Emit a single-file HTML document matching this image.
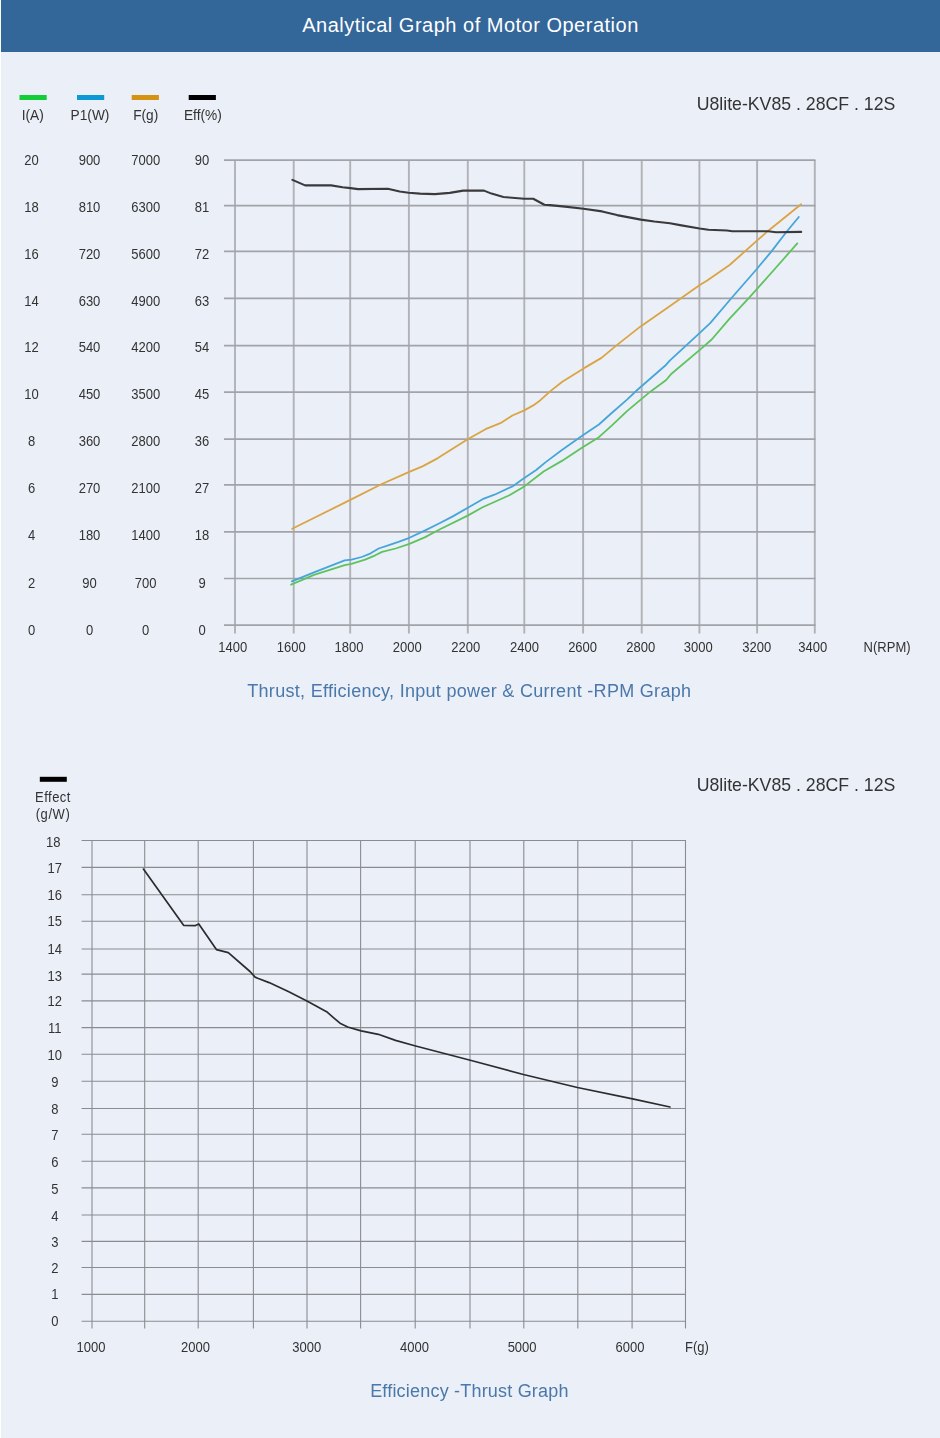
<!DOCTYPE html>
<html><head><meta charset="utf-8"><title>Analytical Graph of Motor Operation</title>
<style>
html,body{margin:0;padding:0;}
body{width:940px;height:1438px;overflow:hidden;background:#ebeff7;position:relative;font-family:"Liberation Sans",sans-serif;}
.lstrip{position:absolute;left:0;top:0;width:1px;height:1438px;background:#fff;}
.hdr{position:absolute;left:1px;top:0;width:939px;height:52px;background:#336699;}
.hdr h1{margin:0;position:absolute;left:0;right:0;top:13px;text-align:center;color:#fff;font-weight:normal;font-size:20px;line-height:24px;letter-spacing:0.5px;}
svg{position:absolute;left:0;top:0;filter:blur(0.35px);}
svg text{font-family:"Liberation Sans",sans-serif;}
</style></head><body>
<div class="lstrip"></div>
<div class="hdr"><h1>Analytical Graph of Motor Operation</h1></div>
<svg width="940" height="1438" viewBox="0 0 940 1438">

<g stroke="#b0b2b7" stroke-width="1.9" fill="none"><line x1="235" y1="160" x2="235" y2="633.5"/><line x1="293.7" y1="160" x2="293.7" y2="633.5"/><line x1="350.2" y1="160" x2="350.2" y2="633.5"/><line x1="408.9" y1="160" x2="408.9" y2="633.5"/><line x1="467.8" y1="160" x2="467.8" y2="633.5"/><line x1="524.3" y1="160" x2="524.3" y2="633.5"/><line x1="583.1" y1="160" x2="583.1" y2="633.5"/><line x1="641.7" y1="160" x2="641.7" y2="633.5"/><line x1="699.4" y1="160" x2="699.4" y2="633.5"/><line x1="757.1" y1="160" x2="757.1" y2="633.5"/><line x1="814.8" y1="160" x2="814.8" y2="633.5"/></g>
<g stroke="#a1a3a8" stroke-width="1.7" fill="none"><line x1="224" y1="160.1" x2="815.5" y2="160.1"/><line x1="224" y1="205.6" x2="815.5" y2="205.6"/><line x1="224" y1="251.4" x2="815.5" y2="251.4"/><line x1="224" y1="298.3" x2="815.5" y2="298.3"/><line x1="224" y1="345.6" x2="815.5" y2="345.6"/><line x1="224" y1="392.1" x2="815.5" y2="392.1"/><line x1="224" y1="439.1" x2="815.5" y2="439.1"/><line x1="224" y1="484.8" x2="815.5" y2="484.8"/><line x1="224" y1="531.8" x2="815.5" y2="531.8"/><line x1="224" y1="578.5" x2="815.5" y2="578.5"/><line x1="224" y1="625.1" x2="815.5" y2="625.1"/></g>
<g stroke="#8a8c90" stroke-width="1.1" fill="none"><line x1="92.0" y1="840.5" x2="92.0" y2="1328.5"/><line x1="144.7" y1="840.5" x2="144.7" y2="1328.5"/><line x1="198.2" y1="840.5" x2="198.2" y2="1328.5"/><line x1="253.4" y1="840.5" x2="253.4" y2="1328.5"/><line x1="307.0" y1="840.5" x2="307.0" y2="1328.5"/><line x1="360.6" y1="840.5" x2="360.6" y2="1328.5"/><line x1="415.2" y1="840.5" x2="415.2" y2="1328.5"/><line x1="470" y1="840.5" x2="470" y2="1328.5"/><line x1="523.8" y1="840.5" x2="523.8" y2="1328.5"/><line x1="577.8" y1="840.5" x2="577.8" y2="1328.5"/><line x1="632.1" y1="840.5" x2="632.1" y2="1328.5"/><line x1="685.5" y1="840.5" x2="685.5" y2="1328.5"/><line x1="81.6" y1="840.5" x2="686" y2="840.5"/><line x1="81.6" y1="867.4" x2="686" y2="867.4"/><line x1="81.6" y1="894.7" x2="686" y2="894.7"/><line x1="81.6" y1="921.3" x2="686" y2="921.3"/><line x1="81.6" y1="949" x2="686" y2="949"/><line x1="81.6" y1="974.1" x2="686" y2="974.1"/><line x1="81.6" y1="1000.9" x2="686" y2="1000.9"/><line x1="81.6" y1="1027.6" x2="686" y2="1027.6"/><line x1="81.6" y1="1054.2" x2="686" y2="1054.2"/><line x1="81.6" y1="1081.3" x2="686" y2="1081.3"/><line x1="81.6" y1="1108.5" x2="686" y2="1108.5"/><line x1="81.6" y1="1134.2" x2="686" y2="1134.2"/><line x1="81.6" y1="1161.3" x2="686" y2="1161.3"/><line x1="81.6" y1="1187.9" x2="686" y2="1187.9"/><line x1="81.6" y1="1215" x2="686" y2="1215"/><line x1="81.6" y1="1241.4" x2="686" y2="1241.4"/><line x1="81.6" y1="1267.5" x2="686" y2="1267.5"/><line x1="81.6" y1="1294.4" x2="686" y2="1294.4"/><line x1="81.6" y1="1321.2" x2="686" y2="1321.2"/></g>
<g fill="none" stroke-linejoin="round" stroke-linecap="round">
<polyline points="292.2,528.8 350.3,499.9 381.3,484.3 408.1,472.4 423.0,466.1 437.9,458.1 467.7,439.3 485.5,429.2 500.4,423.2 512.4,415.5 524.3,410.4 533.2,405.4 540.4,400.2 550.4,391.1 562.3,381.7 582.8,368.9 601.5,357.9 616.8,345.1 640.6,326.4 670.0,306.0 699.8,285.1 707.2,280.6 729.6,265.0 756.4,241.2 768.3,230.7 801.1,204.2" stroke="#dba443" stroke-width="1.8"/>
<polyline points="291.9,581.4 314.0,572.3 344.7,560.4 351.5,559.6 361.7,557.0 370.2,553.6 378.7,548.5 388.9,545.1 399.1,541.7 409.4,537.8 424.7,530.6 440.0,523.0 452.8,516.4 482.6,499.2 494.5,494.7 512.4,486.4 524.3,478.0 536.2,470.0 545.1,462.6 561.9,450.0 583.6,434.7 598.9,424.5 611.7,413.0 627.0,399.6 637.2,390.0 666.2,364.7 670.0,360.3 699.8,332.8 710.2,323.1 731.1,298.5 756.4,269.5 771.3,251.6 786.2,232.2 798.8,217.0" stroke="#45a6d9" stroke-width="1.8"/>
<polyline points="291.1,584.6 314.0,574.9 344.7,565.2 351.5,563.8 365.1,559.6 375.3,555.3 382.1,551.9 395.7,548.5 409.4,543.9 424.7,537.4 440.0,529.3 467.7,515.6 482.6,507.2 509.4,495.3 524.3,486.4 543.6,471.5 561.9,460.9 582.3,447.4 598.9,437.2 611.7,425.7 627.0,411.1 650.0,391.9 666.2,380.0 671.5,373.7 699.8,349.9 711.7,339.5 729.6,318.6 749.0,297.8 756.4,289.6 774.3,269.5 797.3,243.4" stroke="#5ec35e" stroke-width="1.8"/>
<polyline points="292.4,179.9 305.1,185.4 331.2,185.4 342.6,187.2 350.5,188.1 358.0,189.1 387.8,188.8 399.7,191.5 408.6,192.7 420.0,193.6 434.9,194.1 449.8,192.9 463.2,190.6 484.0,190.6 491.5,193.6 503.4,197.0 524.3,198.8 533.2,198.8 544.4,204.8 550.0,205.1 564.9,206.6 583.5,208.7 602.1,211.4 617.0,215.1 640.9,219.6 654.3,221.5 670.0,223.3 680.0,225.1 699.6,228.5 708.5,229.8 727.0,230.5 732.4,231.3 768.0,231.3 776.0,232.3 801.2,231.9" stroke="#3a3a3c" stroke-width="2.1"/>
<polyline points="143.4,869.1 183.6,925.3 195.5,925.6 198.8,924.0 216.4,949.6 228.3,952.6 250.0,971.5 255.1,977.1 257.7,978.2 269.1,982.6 288.3,991.6 307.4,1001.2 326.6,1011.7 334.3,1018.4 340.0,1023.2 347.7,1027.0 361.1,1030.9 378.3,1034.3 395.5,1040.4 414.7,1045.8 470.3,1060.2 523.4,1074.5 577.4,1087.5 632.6,1098.9 670.0,1107.0" stroke="#2c2c2e" stroke-width="1.7"/>
</g>
<rect x="19.5" y="95" width="27.2" height="5" fill="#12cc38"/>
<rect x="77" y="95" width="27.2" height="5" fill="#0c99d6"/>
<rect x="131.7" y="95" width="27.2" height="5" fill="#d49412"/>
<rect x="188.7" y="95" width="27.2" height="5" fill="#000"/>
<rect x="39.8" y="776.8" width="27" height="5" fill="#000"/>
<g><text transform="translate(32.7 119.5) scale(0.98 1)" font-size="14" text-anchor="middle" fill="#333">I(A)</text><text transform="translate(90 119.5) scale(0.98 1)" font-size="14" text-anchor="middle" fill="#333">P1(W)</text><text transform="translate(145.7 119.5) scale(0.98 1)" font-size="14" text-anchor="middle" fill="#333">F(g)</text><text transform="translate(202.9 119.5) scale(0.98 1)" font-size="14" text-anchor="middle" fill="#333">Eff(%)</text><text transform="translate(31.5 165.15) scale(0.93 1)" font-size="14" text-anchor="middle" fill="#333">20</text><text transform="translate(31.5 211.95) scale(0.93 1)" font-size="14" text-anchor="middle" fill="#333">18</text><text transform="translate(31.5 258.75) scale(0.93 1)" font-size="14" text-anchor="middle" fill="#333">16</text><text transform="translate(31.5 305.55) scale(0.93 1)" font-size="14" text-anchor="middle" fill="#333">14</text><text transform="translate(31.5 352.35) scale(0.93 1)" font-size="14" text-anchor="middle" fill="#333">12</text><text transform="translate(31.5 399.15) scale(0.93 1)" font-size="14" text-anchor="middle" fill="#333">10</text><text transform="translate(31.5 446.25) scale(0.93 1)" font-size="14" text-anchor="middle" fill="#333">8</text><text transform="translate(31.5 493.35) scale(0.93 1)" font-size="14" text-anchor="middle" fill="#333">6</text><text transform="translate(31.5 540.45) scale(0.93 1)" font-size="14" text-anchor="middle" fill="#333">4</text><text transform="translate(31.5 587.55) scale(0.93 1)" font-size="14" text-anchor="middle" fill="#333">2</text><text transform="translate(31.5 634.65) scale(0.93 1)" font-size="14" text-anchor="middle" fill="#333">0</text><text transform="translate(89.5 165.15) scale(0.93 1)" font-size="14" text-anchor="middle" fill="#333">900</text><text transform="translate(89.5 211.95) scale(0.93 1)" font-size="14" text-anchor="middle" fill="#333">810</text><text transform="translate(89.5 258.75) scale(0.93 1)" font-size="14" text-anchor="middle" fill="#333">720</text><text transform="translate(89.5 305.55) scale(0.93 1)" font-size="14" text-anchor="middle" fill="#333">630</text><text transform="translate(89.5 352.35) scale(0.93 1)" font-size="14" text-anchor="middle" fill="#333">540</text><text transform="translate(89.5 399.15) scale(0.93 1)" font-size="14" text-anchor="middle" fill="#333">450</text><text transform="translate(89.5 446.25) scale(0.93 1)" font-size="14" text-anchor="middle" fill="#333">360</text><text transform="translate(89.5 493.35) scale(0.93 1)" font-size="14" text-anchor="middle" fill="#333">270</text><text transform="translate(89.5 540.45) scale(0.93 1)" font-size="14" text-anchor="middle" fill="#333">180</text><text transform="translate(89.5 587.55) scale(0.93 1)" font-size="14" text-anchor="middle" fill="#333">90</text><text transform="translate(89.5 634.65) scale(0.93 1)" font-size="14" text-anchor="middle" fill="#333">0</text><text transform="translate(145.7 165.15) scale(0.93 1)" font-size="14" text-anchor="middle" fill="#333">7000</text><text transform="translate(145.7 211.95) scale(0.93 1)" font-size="14" text-anchor="middle" fill="#333">6300</text><text transform="translate(145.7 258.75) scale(0.93 1)" font-size="14" text-anchor="middle" fill="#333">5600</text><text transform="translate(145.7 305.55) scale(0.93 1)" font-size="14" text-anchor="middle" fill="#333">4900</text><text transform="translate(145.7 352.35) scale(0.93 1)" font-size="14" text-anchor="middle" fill="#333">4200</text><text transform="translate(145.7 399.15) scale(0.93 1)" font-size="14" text-anchor="middle" fill="#333">3500</text><text transform="translate(145.7 446.25) scale(0.93 1)" font-size="14" text-anchor="middle" fill="#333">2800</text><text transform="translate(145.7 493.35) scale(0.93 1)" font-size="14" text-anchor="middle" fill="#333">2100</text><text transform="translate(145.7 540.45) scale(0.93 1)" font-size="14" text-anchor="middle" fill="#333">1400</text><text transform="translate(145.7 587.55) scale(0.93 1)" font-size="14" text-anchor="middle" fill="#333">700</text><text transform="translate(145.7 634.65) scale(0.93 1)" font-size="14" text-anchor="middle" fill="#333">0</text><text transform="translate(202 165.15) scale(0.93 1)" font-size="14" text-anchor="middle" fill="#333">90</text><text transform="translate(202 211.95) scale(0.93 1)" font-size="14" text-anchor="middle" fill="#333">81</text><text transform="translate(202 258.75) scale(0.93 1)" font-size="14" text-anchor="middle" fill="#333">72</text><text transform="translate(202 305.55) scale(0.93 1)" font-size="14" text-anchor="middle" fill="#333">63</text><text transform="translate(202 352.35) scale(0.93 1)" font-size="14" text-anchor="middle" fill="#333">54</text><text transform="translate(202 399.15) scale(0.93 1)" font-size="14" text-anchor="middle" fill="#333">45</text><text transform="translate(202 446.25) scale(0.93 1)" font-size="14" text-anchor="middle" fill="#333">36</text><text transform="translate(202 493.35) scale(0.93 1)" font-size="14" text-anchor="middle" fill="#333">27</text><text transform="translate(202 540.45) scale(0.93 1)" font-size="14" text-anchor="middle" fill="#333">18</text><text transform="translate(202 587.55) scale(0.93 1)" font-size="14" text-anchor="middle" fill="#333">9</text><text transform="translate(202 634.65) scale(0.93 1)" font-size="14" text-anchor="middle" fill="#333">0</text><text transform="translate(232.7 652.3) scale(0.93 1)" font-size="14" text-anchor="middle" fill="#333">1400</text><text transform="translate(291.3 652.3) scale(0.93 1)" font-size="14" text-anchor="middle" fill="#333">1600</text><text transform="translate(349 652.3) scale(0.93 1)" font-size="14" text-anchor="middle" fill="#333">1800</text><text transform="translate(407.3 652.3) scale(0.93 1)" font-size="14" text-anchor="middle" fill="#333">2000</text><text transform="translate(465.8 652.3) scale(0.93 1)" font-size="14" text-anchor="middle" fill="#333">2200</text><text transform="translate(524.4 652.3) scale(0.93 1)" font-size="14" text-anchor="middle" fill="#333">2400</text><text transform="translate(582.6 652.3) scale(0.93 1)" font-size="14" text-anchor="middle" fill="#333">2600</text><text transform="translate(640.8 652.3) scale(0.93 1)" font-size="14" text-anchor="middle" fill="#333">2800</text><text transform="translate(698.3 652.3) scale(0.93 1)" font-size="14" text-anchor="middle" fill="#333">3000</text><text transform="translate(756.8 652.3) scale(0.93 1)" font-size="14" text-anchor="middle" fill="#333">3200</text><text transform="translate(812.8 652.3) scale(0.93 1)" font-size="14" text-anchor="middle" fill="#333">3400</text><text transform="translate(887.1 652.3) scale(0.93 1)" font-size="14" text-anchor="middle" fill="#333">N(RPM)</text><text x="895.3" y="109.7" font-size="17.7" text-anchor="end" fill="#333">U8lite-KV85 . 28CF . 12S</text><text x="895.3" y="791.3" font-size="17.7" text-anchor="end" fill="#333">U8lite-KV85 . 28CF . 12S</text><text x="469.3" y="696.8" font-size="18" text-anchor="middle" fill="#4a78ab" letter-spacing="0.3">Thrust, Efficiency, Input power &amp; Current -RPM Graph</text><text x="469.4" y="1396.9" font-size="18" text-anchor="middle" fill="#4a78ab" letter-spacing="0.2">Efficiency -Thrust Graph</text><text transform="translate(53 802) scale(0.93 1)" font-size="14" text-anchor="middle" fill="#333" letter-spacing="0.5">Effect</text><text transform="translate(53 818.5) scale(0.93 1)" font-size="14" text-anchor="middle" fill="#333" letter-spacing="0.6">(g/W)</text><text transform="translate(53.3 846.95) scale(0.93 1)" font-size="14" text-anchor="middle" fill="#333">18</text><text transform="translate(54.8 872.95) scale(0.93 1)" font-size="14" text-anchor="middle" fill="#333">17</text><text transform="translate(54.8 899.75) scale(0.93 1)" font-size="14" text-anchor="middle" fill="#333">16</text><text transform="translate(54.8 926.45) scale(0.93 1)" font-size="14" text-anchor="middle" fill="#333">15</text><text transform="translate(54.8 953.65) scale(0.93 1)" font-size="14" text-anchor="middle" fill="#333">14</text><text transform="translate(54.8 980.75) scale(0.93 1)" font-size="14" text-anchor="middle" fill="#333">13</text><text transform="translate(54.8 1006.45) scale(0.93 1)" font-size="14" text-anchor="middle" fill="#333">12</text><text transform="translate(54.8 1032.95) scale(0.93 1)" font-size="14" text-anchor="middle" fill="#333">11</text><text transform="translate(54.8 1059.75) scale(0.93 1)" font-size="14" text-anchor="middle" fill="#333">10</text><text transform="translate(54.8 1086.65) scale(0.93 1)" font-size="14" text-anchor="middle" fill="#333">9</text><text transform="translate(54.8 1114.05) scale(0.93 1)" font-size="14" text-anchor="middle" fill="#333">8</text><text transform="translate(54.8 1139.95) scale(0.93 1)" font-size="14" text-anchor="middle" fill="#333">7</text><text transform="translate(54.8 1166.65) scale(0.93 1)" font-size="14" text-anchor="middle" fill="#333">6</text><text transform="translate(54.8 1193.85) scale(0.93 1)" font-size="14" text-anchor="middle" fill="#333">5</text><text transform="translate(54.8 1220.75) scale(0.93 1)" font-size="14" text-anchor="middle" fill="#333">4</text><text transform="translate(54.8 1247.05) scale(0.93 1)" font-size="14" text-anchor="middle" fill="#333">3</text><text transform="translate(54.8 1272.75) scale(0.93 1)" font-size="14" text-anchor="middle" fill="#333">2</text><text transform="translate(54.8 1299.35) scale(0.93 1)" font-size="14" text-anchor="middle" fill="#333">1</text><text transform="translate(54.8 1326.25) scale(0.93 1)" font-size="14" text-anchor="middle" fill="#333">0</text><text transform="translate(91 1351.5) scale(0.93 1)" font-size="14" text-anchor="middle" fill="#333">1000</text><text transform="translate(195.4 1351.5) scale(0.93 1)" font-size="14" text-anchor="middle" fill="#333">2000</text><text transform="translate(306.8 1351.5) scale(0.93 1)" font-size="14" text-anchor="middle" fill="#333">3000</text><text transform="translate(414.5 1351.5) scale(0.93 1)" font-size="14" text-anchor="middle" fill="#333">4000</text><text transform="translate(522.1 1351.5) scale(0.93 1)" font-size="14" text-anchor="middle" fill="#333">5000</text><text transform="translate(629.9 1351.5) scale(0.93 1)" font-size="14" text-anchor="middle" fill="#333">6000</text><text transform="translate(696.9 1351.5) scale(0.93 1)" font-size="14" text-anchor="middle" fill="#333">F(g)</text></g>
</svg>
</body></html>
